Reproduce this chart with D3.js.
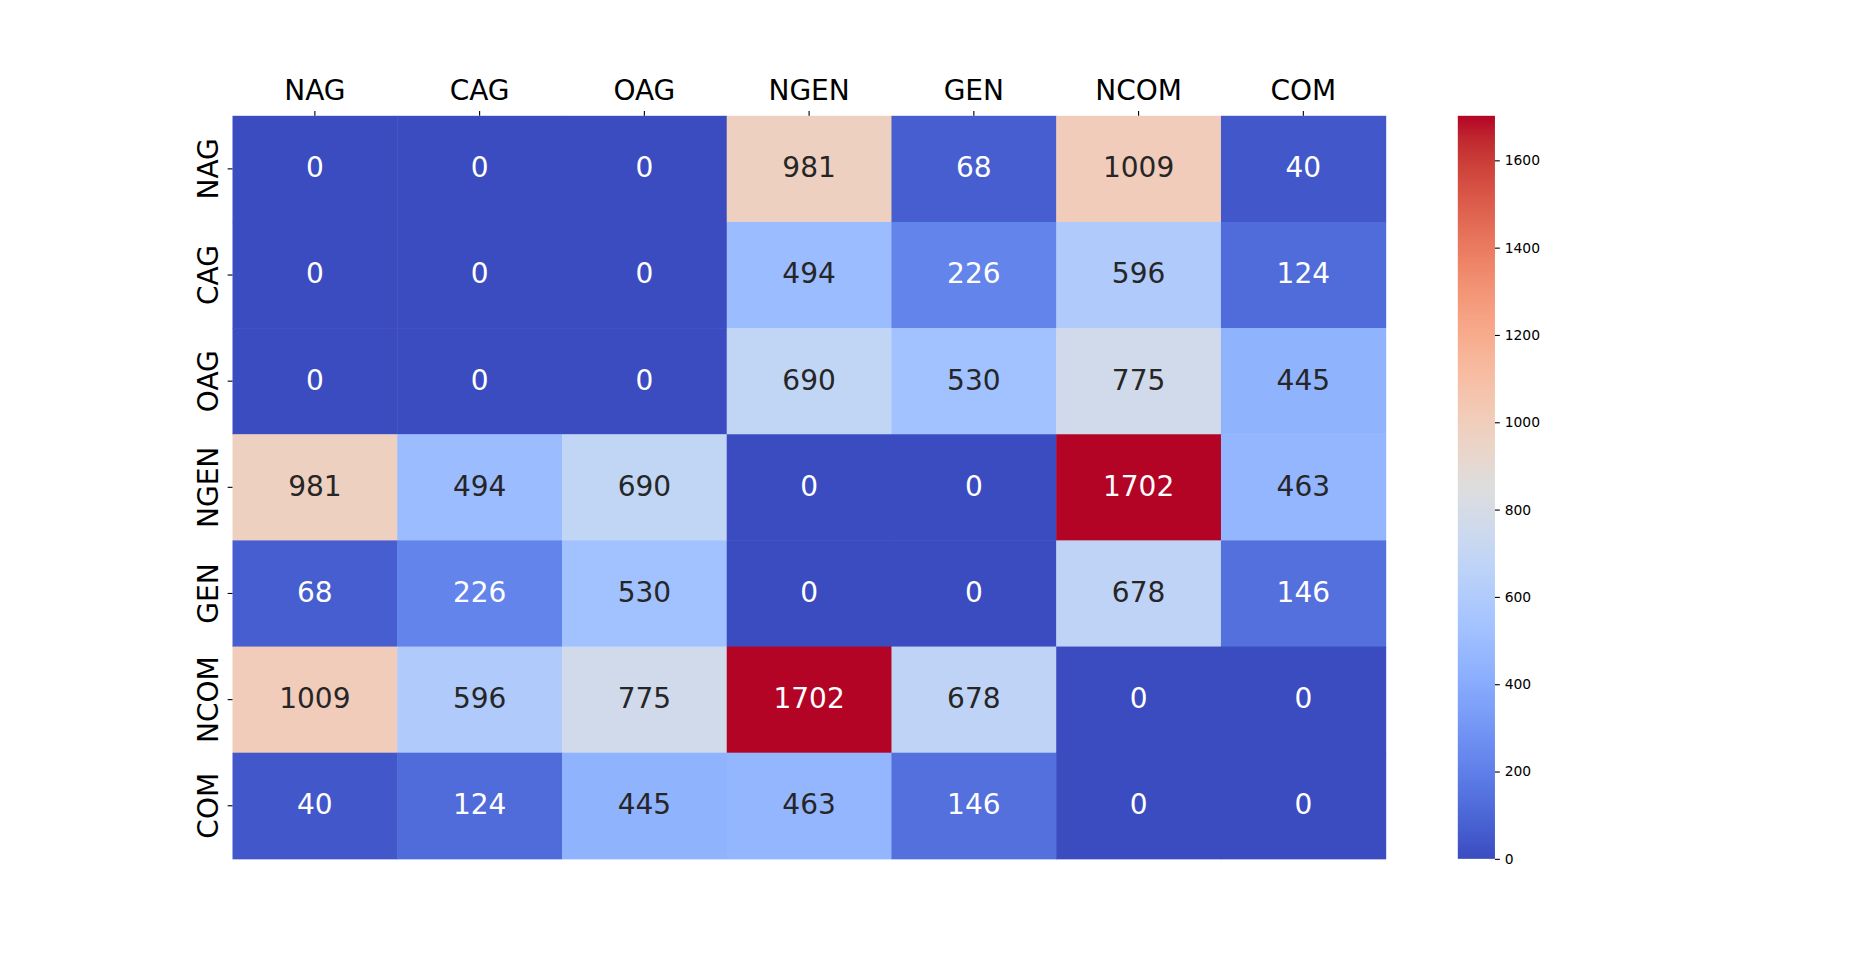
<!DOCTYPE html>
<html>
<head>
<meta charset="utf-8">
<script src="https://cdn.jsdelivr.net/npm/d3@7"></script>
<style>
  body { margin: 0; background: #fff; }
  text { font-family: "DejaVu Sans", sans-serif; }
</style>
</head>
<body>
<div id="chart"></div>
<script>
// categories (same on both axes)
const labels = ['NAG', 'CAG', 'OAG', 'NGEN', 'GEN', 'NCOM', 'COM'];

// cell values, one row per label
const counts = [
  [0, 0, 0, 981, 68, 1009, 40],
  [0, 0, 0, 494, 226, 596, 124],
  [0, 0, 0, 690, 530, 775, 445],
  [981, 494, 690, 0, 0, 1702, 463],
  [68, 226, 530, 0, 0, 678, 146],
  [1009, 596, 775, 1702, 678, 0, 0],
  [40, 124, 445, 463, 146, 0, 0]
];

const cbarTicks = [0, 200, 400, 600, 800, 1000, 1200, 1400, 1600];

// coolwarm colormap (Moreland), position + rgb
const coolwarm = [
  [0.0, 59, 76, 192], [0.03125, 68, 90, 204], [0.0625, 77, 104, 215], [0.09375, 87, 117, 225],
  [0.125, 98, 130, 234], [0.15625, 108, 142, 241], [0.1875, 119, 154, 247], [0.21875, 130, 165, 251],
  [0.25, 141, 176, 254], [0.28125, 152, 185, 255], [0.3125, 163, 194, 255], [0.34375, 174, 201, 253],
  [0.375, 184, 208, 249], [0.40625, 194, 213, 244], [0.4375, 204, 217, 238], [0.46875, 213, 219, 230],
  [0.5, 221, 221, 221], [0.53125, 229, 216, 209], [0.5625, 236, 211, 197], [0.59375, 241, 204, 185],
  [0.625, 245, 196, 173], [0.65625, 247, 187, 160], [0.6875, 247, 177, 148], [0.71875, 247, 166, 135],
  [0.75, 244, 154, 123], [0.78125, 241, 141, 111], [0.8125, 236, 127, 99], [0.84375, 229, 112, 88],
  [0.875, 222, 96, 77], [0.90625, 213, 80, 66], [0.9375, 203, 62, 56], [0.96875, 192, 40, 47],
  [1.0, 180, 4, 38]
];

const W = 1860, H = 965;
const pt = 100 / 72;
const margin = {top: 115.8, left: 232.5, right: 1385.7, bottom: 858.85};
const cbar = {x: 1457.8, w: 37.15};

const vmax = d3.max(counts.flat());

const cmapScale = d3.scaleLinear()
  .domain(coolwarm.map(d => d[0]))
  .range(coolwarm.map(d => d3.rgb(d[1], d[2], d[3])))
  .interpolate(d3.interpolateRgb)
  .clamp(true);

// quantize to 256 levels like matplotlib
function color(v) {
  let t = v / vmax;
  let i = Math.min(255, Math.floor(t * 256));
  return cmapScale(i / 255);
}

function luminance(c) {
  const rgb = d3.rgb(c);
  const lin = [rgb.r, rgb.g, rgb.b].map(x => {
    x = x / 255;
    return x <= 0.03928 ? x / 12.92 : Math.pow((x + 0.055) / 1.055, 2.4);
  });
  return 0.2126 * lin[0] + 0.7152 * lin[1] + 0.0722 * lin[2];
}

const svg = d3.select('#chart')
  .append('svg')
  .attr('width', W)
  .attr('height', H);

const xScale = d3.scaleBand()
  .domain(labels)
  .range([margin.left, margin.right]);

const yScale = d3.scaleBand()
  .domain(labels)
  .range([margin.top, margin.bottom]);

const cells = [];
counts.forEach((row, i) => {
  row.forEach((v, j) => cells.push({row: labels[i], col: labels[j], value: v}));
});

svg.append('g')
  .selectAll('rect')
  .data(cells)
  .enter()
  .append('rect')
  .attr('x', d => xScale(d.col))
  .attr('y', d => yScale(d.row))
  .attr('width', xScale.bandwidth() + 0.5)
  .attr('height', yScale.bandwidth() + 0.5)
  .attr('fill', d => color(d.value));

svg.append('g')
  .selectAll('text')
  .data(cells)
  .enter()
  .append('text')
  .attr('x', d => xScale(d.col) + xScale.bandwidth() / 2)
  .attr('y', d => yScale(d.row) + yScale.bandwidth() / 2)
  .attr('dy', '0.3em')
  .attr('text-anchor', 'middle')
  .style('font-size', '28px')
  .attr('fill', d => luminance(color(d.value)) < 0.408 ? '#ffffff' : '#262626')
  .text(d => d.value);

const tickLen = 3.5 * pt;

// top axis
const xAxis = d3.axisTop(xScale).tickSize(tickLen).tickPadding(tickLen);
const gx = svg.append('g')
  .attr('transform', `translate(0, ${margin.top})`)
  .call(xAxis);
gx.select('.domain').remove();
gx.selectAll('line').attr('stroke', '#000').attr('stroke-width', 0.8 * pt);
gx.selectAll('text')
  .attr('dy', '-0.2em')
  .attr('fill', '#000')
  .style('font-size', '28px')
  .style('font-family', '"DejaVu Sans", sans-serif');

// left axis, rotated labels
const yAxis = d3.axisLeft(yScale).tickSize(tickLen).tickPadding(tickLen);
const gy = svg.append('g')
  .attr('transform', `translate(${margin.left}, 0)`)
  .call(yAxis);
gy.select('.domain').remove();
gy.selectAll('line').attr('stroke', '#000').attr('stroke-width', 0.8 * pt);
gy.selectAll('text')
  .attr('x', 0)
  .attr('y', -(2 * tickLen + 4.5))
  .attr('dy', '0')
  .attr('transform', 'rotate(-90)')
  .attr('text-anchor', 'middle')
  .attr('fill', '#000')
  .style('font-size', '28px')
  .style('font-family', '"DejaVu Sans", sans-serif');

// colorbar
const cScale = d3.scaleLinear()
  .domain([0, vmax])
  .range([margin.bottom, margin.top]);

const grad = svg.append('defs')
  .append('linearGradient')
  .attr('id', 'cbarGrad')
  .attr('x1', 0).attr('y1', 1)
  .attr('x2', 0).attr('y2', 0);

grad.selectAll('stop')
  .data(d3.range(0, 257).map(i => i / 256))
  .enter()
  .append('stop')
  .attr('offset', d => d)
  .attr('stop-color', d => cmapScale(d));

svg.append('rect')
  .attr('x', cbar.x)
  .attr('y', margin.top)
  .attr('width', cbar.w)
  .attr('height', margin.bottom - margin.top)
  .attr('fill', 'url(#cbarGrad)');

const cAxis = d3.axisRight(cScale)
  .tickValues(cbarTicks)
  .tickFormat(d3.format('d'))
  .tickSize(tickLen)
  .tickPadding(tickLen);

const gc = svg.append('g')
  .attr('transform', `translate(${cbar.x + cbar.w}, 0)`)
  .call(cAxis);
gc.select('.domain').remove();
gc.selectAll('line').attr('stroke', '#000').attr('stroke-width', 0.8 * pt);
gc.selectAll('text')
  .attr('fill', '#000')
  .style('font-size', (10 * pt) + 'px')
  .style('font-family', '"DejaVu Sans", sans-serif');
</script>
</body>
</html>
